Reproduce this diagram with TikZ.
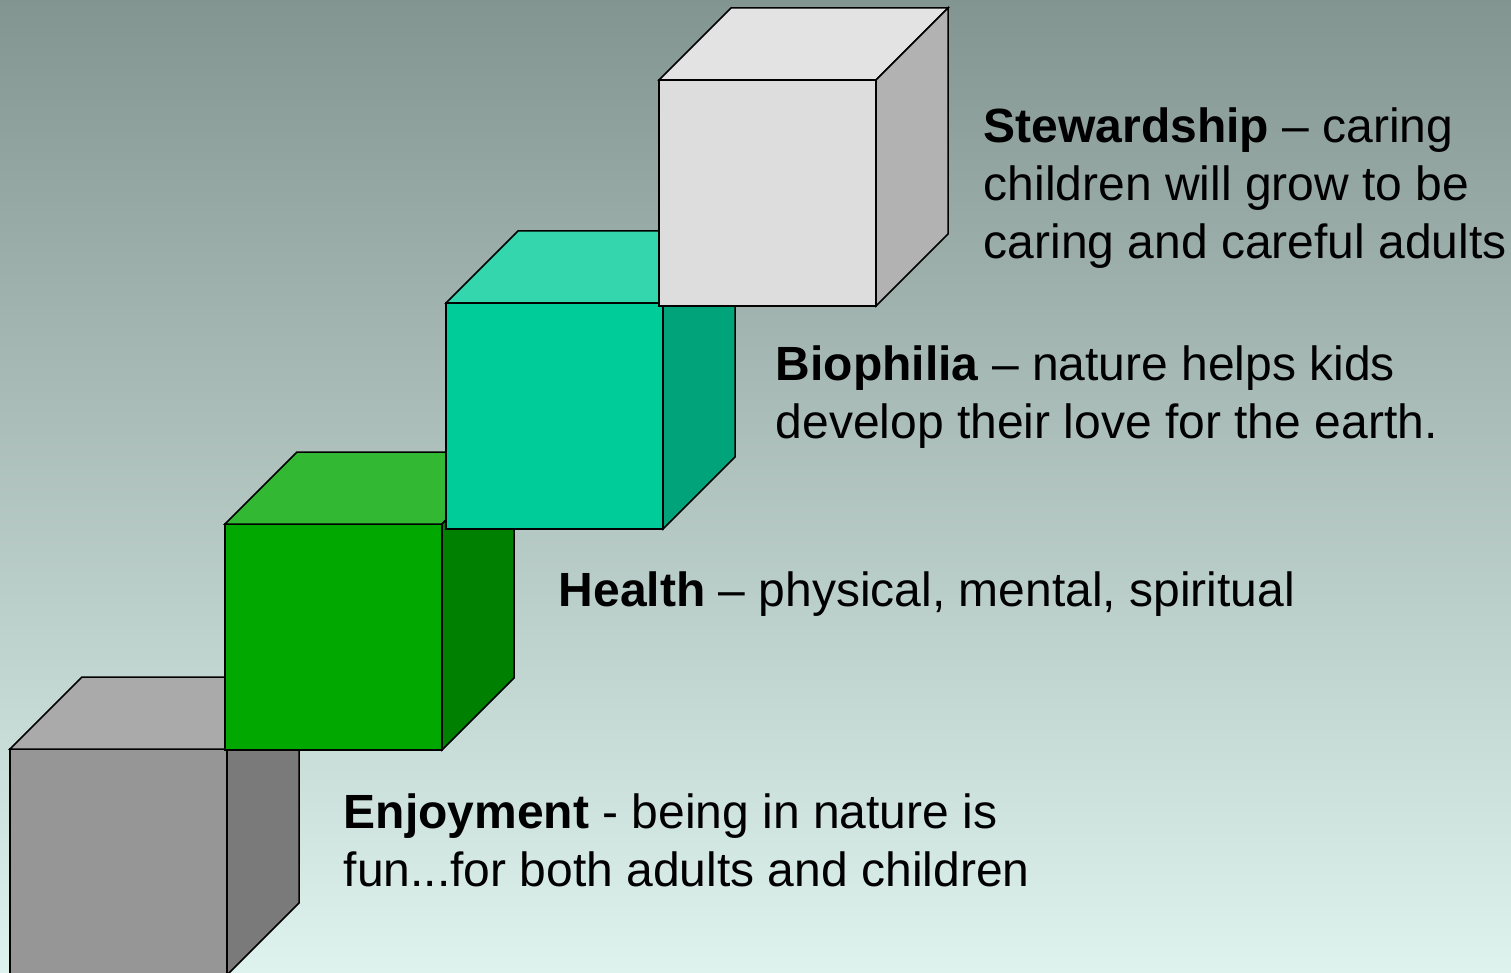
\documentclass[tikz,border=0pt]{standalone}
\usepackage{fontspec}
\setmainfont{Liberation Sans}
\usepackage{xcolor}
\definecolor{bgtop}{RGB}{131,149,144}
\definecolor{bgbottom}{RGB}{222,243,238}
\definecolor{grayfront}{RGB}{150,150,150}
\definecolor{graytop}{RGB}{170,170,170}
\definecolor{grayside}{RGB}{122,122,122}
\definecolor{greenfront}{RGB}{0,168,0}
\definecolor{greentop}{RGB}{51,184,51}
\definecolor{greenside}{RGB}{0,128,0}
\definecolor{tealfront}{RGB}{0,204,153}
\definecolor{tealtop}{RGB}{51,214,173}
\definecolor{tealside}{RGB}{0,163,122}
\definecolor{whitefront}{RGB}{221,221,221}
\definecolor{whitetop}{RGB}{227,227,227}
\definecolor{whiteside}{RGB}{178,178,178}

% one step: #1,#2 = top left corner of the front face, #3 = colour name
\newcommand{\stepcube}[3]{%
  \begin{scope}[shift={(#1,#2)}]
    \filldraw[fill=#3front] (0,0) rectangle (217,226);
    \filldraw[fill=#3top] (0,0) -- (72,-72) -- (289,-72) -- (217,0) -- cycle;
    \filldraw[fill=#3side] (217,0) -- (289,-72) -- (289,154) -- (217,226) -- cycle;
  \end{scope}}

\begin{document}
\begin{tikzpicture}[x=0.5pt,y=-0.5pt,line width=0.75pt,line join=miter]
  \tikzstyle{step text}=[anchor=base west,inner sep=0pt,align=left,
    font=\fontsize{24}{29}\selectfont]

  \useasboundingbox (0,0) rectangle (1511,973);
  \clip (0,0) rectangle (1511,973);
  \shade[top color=bgtop,bottom color=bgbottom] (0,0) rectangle (1511,973);

  \stepcube{10}{749}{gray}
  \stepcube{225}{524}{green}
  \stepcube{446}{303}{teal}
  \stepcube{659}{80}{white}

  % base anchor sits on the last line
  \node[step text] (stewardship) at (983,259)
    {\textbf{Stewardship} -- caring\\children will grow to be\\caring and careful adults};
  \node[step text] (biophilia) at (775,438)
    {\textbf{Biophilia} -- nature helps kids\\develop their love for the earth.};
  \node[step text] (health) at (558,606)
    {\textbf{Health} -- physical, mental, spiritual};
  \node[step text] (enjoyment) at (343,886)
    {\textbf{Enjoyment} - being in nature is\\fun...for both adults and children};
\end{tikzpicture}
\end{document}
